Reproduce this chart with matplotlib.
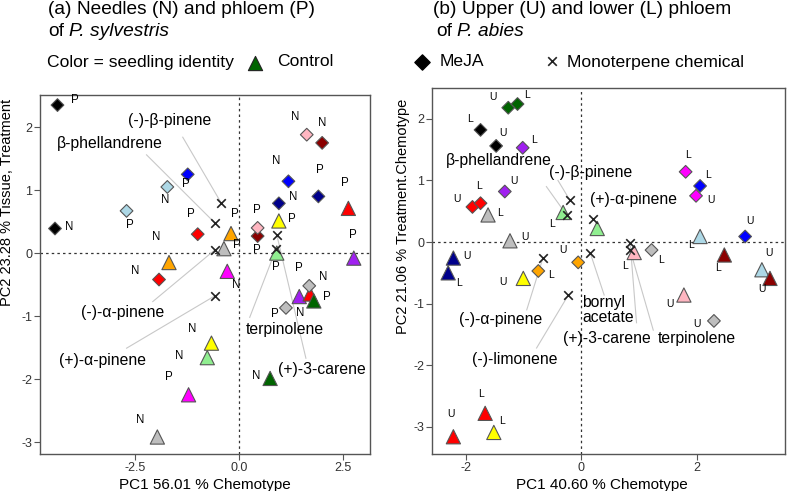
import matplotlib.pyplot as plt

plt.rcParams['font.family'] = ['Liberation Sans', 'DejaVu Sans']
plt.rcParams['axes.unicode_minus'] = False

# seedling colours
C = {'black': '#000000', 'blue': '#0000ff', 'navy': '#00008b', 'lblue': '#add8e6',
     'red': '#ff0000', 'dred': '#8b0000', 'pink': '#ffb6c1', 'orange': '#ffa500',
     'gray': '#bebebe', 'magenta': '#ff00ff', 'purple': '#a020f0', 'yellow': '#ffff00',
     'lgreen': '#90ee90', 'dgreen': '#006400'}

# ---- (a) P. sylvestris ----
# MeJA seedlings (diamonds)
a_meja_x = [-4.36, -4.42, -1.23, -1.72, -2.70, -0.99, -1.92, 0.45, 0.45, 0.96, 1.19, 1.63, 2.00, 1.91, 1.69, 1.13]
a_meja_y = [2.35, 0.39, 1.25, 1.05, 0.67, 0.30, -0.42, 0.27, 0.40, 0.79, 1.14, 1.88, 1.75, 0.90, -0.52, -0.87]
a_meja_col = ['black', 'black', 'blue', 'lblue', 'lblue', 'red', 'red', 'dred', 'pink', 'navy', 'blue', 'pink',
              'dred', 'navy', 'gray', 'gray']
a_meja_tis = ['P', 'N', 'P', 'N', 'P', 'P', 'N', 'P', 'P', 'N', 'N', 'N', 'N', 'P', 'N', 'P']
# control seedlings (triangles)
a_ctrl_x = [-1.68, -0.19, -0.36, -0.28, 0.96, 0.91, 2.63, 2.76, 1.45, 1.71, 1.80, 0.75, -0.66, -0.76, -1.21, -1.96]
a_ctrl_y = [-0.15, 0.31, 0.07, -0.29, 0.51, 0.00, 0.71, -0.08, -0.69, -0.65, -0.76, -1.99, -1.43, -1.66, -2.25, -2.92]
a_ctrl_col = ['orange', 'orange', 'gray', 'magenta', 'yellow', 'lgreen', 'red', 'purple', 'purple', 'red',
              'dgreen', 'dgreen', 'yellow', 'lgreen', 'magenta', 'gray']
a_ctrl_tis = ['N', 'P', 'P', 'N', 'P', 'P', 'P', 'P', 'N', 'P', 'P', 'N', 'N', 'N', 'P', 'N']
# monoterpene chemicals
a_chem = ['(-)-β-pinene', 'β-phellandrene', '(-)-α-pinene', '(+)-α-pinene', 'terpinolene', '(+)-3-carene']
a_chem_x = [-0.42, -0.58, -0.58, -0.58, 0.89, 0.91]
a_chem_y = [0.79, 0.48, 0.05, -0.68, 0.06, 0.29]

# ---- (b) P. abies ----
b_meja_x = [-1.26, -1.10, -1.74, -1.47, -1.01, -1.32, -1.88, -1.74, -0.74, -0.05, 1.81, 2.06, 1.99, 2.84, 1.22, 2.30]
b_meja_y = [2.18, 2.24, 1.82, 1.56, 1.53, 0.82, 0.57, 0.63, -0.47, -0.33, 1.14, 0.91, 0.75, 0.09, -0.13, -1.28]
b_meja_col = ['dgreen', 'dgreen', 'black', 'black', 'purple', 'purple', 'red', 'red', 'orange', 'orange',
              'magenta', 'blue', 'magenta', 'blue', 'gray', 'gray']
b_meja_tis = ['U', 'L', 'L', 'U', 'L', 'U', 'U', 'L', 'L', 'U', 'L', 'L', 'U', 'U', 'L', 'U']
b_ctrl_x = [-1.61, -1.23, -2.21, -2.30, -1.00, -0.31, 0.28, 0.92, 1.78, 2.06, 2.48, 3.13, 3.27, -1.66, -2.21, -1.51]
b_ctrl_y = [0.44, 0.02, -0.26, -0.50, -0.59, 0.48, 0.22, -0.17, -0.86, 0.09, -0.21, -0.45, -0.59, -2.78, -3.16, -3.09]
b_ctrl_col = ['gray', 'gray', 'navy', 'navy', 'yellow', 'lgreen', 'lgreen', 'pink', 'pink', 'lblue', 'dred',
              'lblue', 'dred', 'red', 'red', 'yellow']
b_ctrl_tis = ['L', 'U', 'U', 'L', 'U', 'L', '', 'L', 'U', 'L', 'L', 'U', 'U', 'L', 'U', 'L']
b_chem = ['β-phellandrene', '(-)-β-pinene', '(+)-α-pinene', '(-)-α-pinene', 'bornyl\nacetate', '(-)-limonene',
          '(+)-3-carene', 'terpinolene']
b_chem_x = [-0.25, -0.20, 0.21, -0.66, 0.16, -0.22, 0.85, 0.85]
b_chem_y = [0.44, 0.69, 0.37, -0.26, -0.18, -0.86, -0.02, -0.13]

# label placement (pixel offsets for tissue letters, data positions for chemical names)
a_meja_off = [(17, 5), (14, 2), (-2, -10), (-2, -13), (3, -14), (-7, 20), (-24, 9), (-1, -14), (-1, 18), (14, 6),
              (-12, 20), (-12, 18), (0, 20), (1, 26), (14, 9), (-11, -6)]
a_ctrl_off = [(-13, 26), (4, 20), (13, 4), (9, -14), (13, 2), (-1, -14), (-3, 25), (-1, 23), (1, -16), (-11, 26),
              (13, 4), (-14, 2), (-19, 14), (-28, 2), (-20, 18), (-17, 17)]
a_chem_txt = [(-1.66, 2.11), (-3.10, 1.74), (-2.79, -0.95), (-3.27, -1.70), (1.11, -1.22), (1.99, -1.85)]
a_chem_line = [(-1.35, 1.84), (-2.22, 1.56), (-2.07, -0.77), (-2.70, -1.51), (0.26, -1.02), (1.61, -1.67)]

b_meja_off = [(-15, 11), (9, 9), (-11, 11), (7, 13), (11, 8), (9, 11), (-16, 8), (-2, 17), (13, -4), (-15, 12),
              (2, 17), (8, 11), (15, -4), (5, 15), (9, -10), (-17, -3)]
b_ctrl_off = [(12, 2), (15, 4), (14, 2), (11, -10), (-20, -4), (-11, -12), (0, 0), (-9, -13), (-14, -9), (-9, -9),
              (-6, -13), (7, 17), (-8, -11), (-4, 19), (-2, 23), (8, 11)]
b_chem_txt = [(-1.43, 1.33), (0.17, 1.13), (0.90, 0.69), (-1.39, -1.26), (0.02, -1.10), (-1.14, -1.91),
              (0.45, -1.56), (2.01, -1.56)]
b_chem_line = [(-0.60, 0.90), (-0.40, 1.00), None, (-0.94, -1.10), (0.40, -0.86), (-0.77, -1.72),
               (0.96, -1.31), (1.25, -1.43)]


def draw_panel(ax, mx, my, mc, mt, mo, cx, cy, cc, ct, co, chem, chx, chy, txt, lines, lab_fs):
    ax.axhline(0, color='#333333', lw=0.9, ls=(0, (2, 2.5)), zorder=1)
    ax.axvline(0, color='#333333', lw=0.9, ls=(0, (2, 2.5)), zorder=1)
    for name, x, y, t, l in zip(chem, chx, chy, txt, lines):
        if l is not None:
            ax.plot([l[0], x], [l[1], y], color='#c8c8c8', lw=0.8, zorder=2)
        if '\n' in name:
            ax.text(t[0], t[1], name, ha='left', va='center', fontsize=11.3, linespacing=0.95, zorder=5)
        else:
            ax.text(t[0], t[1], name, ha='center', va='center', fontsize=11.3, zorder=5)
    ax.scatter(cx, cy, marker='^', s=105, c=[C[k] for k in cc], edgecolors='#555555', linewidths=0.8, zorder=3)
    ax.scatter(mx, my, marker='D', s=42, c=[C[k] for k in mc], edgecolors='#555555', linewidths=0.8, zorder=3)
    ax.scatter(chx, chy, marker='x', s=38, c='#222222', linewidths=1.2, zorder=4)
    for xs, ys, ts, offs in [(mx, my, mt, mo), (cx, cy, ct, co)]:
        for x, y, t, o in zip(xs, ys, ts, offs):
            ax.annotate(t, (x, y), xytext=o, textcoords='offset pixels', ha='center', va='center',
                        fontsize=lab_fs, zorder=5)
    for s in ax.spines.values():
        s.set_color('#555555')
        s.set_linewidth(1.0)
    ax.tick_params(direction='out', length=4, width=0.8, color='#555555', labelsize=9, labelcolor='#333333', pad=1.5)


fig = plt.figure(figsize=(7.87, 4.91), dpi=100)
ax_a = fig.add_axes([40 / 787, 37 / 491, 330 / 787, 359 / 491])
ax_b = fig.add_axes([432 / 787, 37 / 491, 353 / 787, 366 / 491])

draw_panel(ax_a, a_meja_x, a_meja_y, a_meja_col, a_meja_tis, a_meja_off,
           a_ctrl_x, a_ctrl_y, a_ctrl_col, a_ctrl_tis, a_ctrl_off,
           a_chem, a_chem_x, a_chem_y, a_chem_txt, a_chem_line, 8.3)
ax_a.set_xlim(-4.78, 3.15)
ax_a.set_ylim(-3.19, 2.51)
ax_a.set_xticks([-2.5, 0, 2.5])
ax_a.set_xticklabels(['-2.5', '0.0', '2.5'])
ax_a.set_yticks([-3, -2, -1, 0, 1, 2])
ax_a.set_xlabel('PC1 56.01 % Chemotype', fontsize=11)
ax_a.set_ylabel('PC2 23.28 % Tissue, Treatment', fontsize=10.5)
ax_a.xaxis.set_label_coords(0.5, -0.067)
ax_a.yaxis.set_label_coords(-0.078, 0.70)

draw_panel(ax_b, b_meja_x, b_meja_y, b_meja_col, b_meja_tis, b_meja_off,
           b_ctrl_x, b_ctrl_y, b_ctrl_col, b_ctrl_tis, b_ctrl_off,
           b_chem, b_chem_x, b_chem_y, b_chem_txt, b_chem_line, 7.5)
ax_b.set_xlim(-2.58, 3.53)
ax_b.set_ylim(-3.44, 2.50)
ax_b.set_xticks([-2, 0, 2])
ax_b.set_yticks([-3, -2, -1, 0, 1, 2])
ax_b.set_xlabel('PC1 40.60 % Chemotype', fontsize=11)
ax_b.set_ylabel('PC2 21.06 % Treatment.Chemotype', fontsize=10.5)
ax_b.xaxis.set_label_coords(0.48, -0.066)
ax_b.yaxis.set_label_coords(-0.062, 0.65)

# titles
fig.text(48 / 787, 1 - 10 / 491, '(a) Needles (N) and phloem (P)', fontsize=13.8, va='center', ha='left')
fig.text(48 / 787, 1 - 31 / 491, 'of', fontsize=13.8, va='center', ha='left')
fig.text(69 / 787, 1 - 31 / 491, 'P. sylvestris', fontsize=13.8, va='center', ha='left', style='italic')
fig.text(433 / 787, 1 - 10 / 491, '(b) Upper (U) and lower (L) phloem', fontsize=13.8, va='center', ha='left')
fig.text(436 / 787, 1 - 31 / 491, 'of', fontsize=13.8, va='center', ha='left')
fig.text(457 / 787, 1 - 31 / 491, 'P. abies', fontsize=13.8, va='center', ha='left', style='italic')

# legend rows
fig.text(47 / 787, 1 - 62 / 491, 'Color = seedling identity', fontsize=12.6, va='center', ha='left')
fig.text(277 / 787, 1 - 62 / 491, 'Control', fontsize=12.6, va='center', ha='left')
fig.text(440 / 787, 1 - 62 / 491, 'MeJA', fontsize=12.6, va='center', ha='left')
fig.text(567 / 787, 1 - 62 / 491, 'Monoterpene chemical', fontsize=12.6, va='center', ha='left')
lg = fig.add_axes([0, 0, 1, 1], facecolor='none')
lg.set_axis_off()
lg.set_xlim(0, 787)
lg.set_ylim(491, 0)
lg.scatter([255], [63], marker='^', s=105, c=C['dgreen'], edgecolors='#222222', linewidths=0.8)
lg.scatter([421.7], [62.3], marker='D', s=60, c='black')
lg.scatter([551.7], [61], marker='x', s=38, c='#222222', linewidths=1.2)

fig.savefig('out.png', dpi=100)
